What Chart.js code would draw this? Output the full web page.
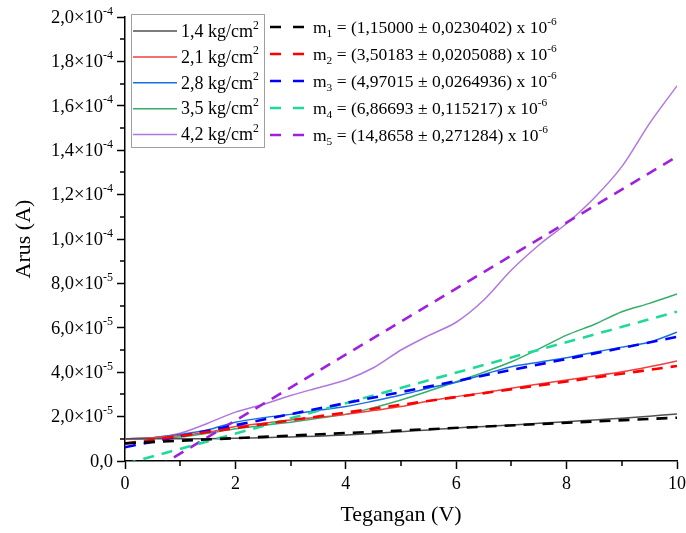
<!DOCTYPE html>
<html>
<head>
<meta charset="utf-8">
<script src="https://cdn.jsdelivr.net/npm/chart.js@4.4.1/dist/chart.umd.min.js"></script>
<style>
  html, body { margin: 0; padding: 0; background: #fff; }
  #wrap { width: 686px; height: 533px; }
</style>
</head>
<body>
<div id="wrap"><canvas id="chart"></canvas></div>
<script>
const voltage = [0, 0.5, 1, 1.5, 2, 2.5, 3, 3.5, 4, 4.5, 5, 5.5, 6, 6.5, 7, 7.5, 8, 8.5, 9, 9.5, 10];
const pressureLabels = ['1,4', '2,1', '2,8', '3,5', '4,2'];
const current14 = [1.00e-5, 1.00e-5, 1.00e-5, 1.00e-5, 1.02e-5, 1.05e-5, 1.08e-5, 1.12e-5, 1.17e-5, 1.24e-5, 1.32e-5, 1.40e-5, 1.49e-5, 1.55e-5, 1.62e-5, 1.70e-5, 1.77e-5, 1.85e-5, 1.93e-5, 2.02e-5, 2.12e-5];
const current21 = [1.00e-5, 1.05e-5, 1.15e-5, 1.30e-5, 1.55e-5, 1.70e-5, 1.85e-5, 1.97e-5, 2.10e-5, 2.27e-5, 2.45e-5, 2.70e-5, 2.90e-5, 3.08e-5, 3.28e-5, 3.47e-5, 3.65e-5, 3.83e-5, 4.02e-5, 4.25e-5, 4.50e-5];
const current28 = [1.00e-5, 1.05e-5, 1.20e-5, 1.40e-5, 1.75e-5, 1.95e-5, 2.10e-5, 2.28e-5, 2.45e-5, 2.70e-5, 2.97e-5, 3.28e-5, 3.55e-5, 3.90e-5, 4.25e-5, 4.45e-5, 4.65e-5, 4.90e-5, 5.13e-5, 5.35e-5, 5.80e-5];
const current35 = [1.00e-5, 1.02e-5, 1.08e-5, 1.25e-5, 1.45e-5, 1.60e-5, 1.75e-5, 1.92e-5, 2.10e-5, 2.40e-5, 2.75e-5, 3.15e-5, 3.57e-5, 4.00e-5, 4.47e-5, 5.05e-5, 5.67e-5, 6.15e-5, 6.72e-5, 7.10e-5, 7.52e-5];
const current42 = [1.00e-5, 1.03e-5, 1.25e-5, 1.70e-5, 2.20e-5, 2.55e-5, 2.95e-5, 3.30e-5, 3.65e-5, 4.20e-5, 5.00e-5, 5.65e-5, 6.25e-5, 7.25e-5, 8.60e-5, 9.73e-5, 10.70e-5, 11.85e-5, 13.26e-5, 15.20e-5, 16.90e-5];

// linear fits
const fitSlopes = [1.15000e-6, 3.50183e-6, 4.97015e-6, 6.86693e-6, 14.8658e-6];
const fitIntercepts = [0.80e-5, 0.78e-5, 0.62e-5, -0.14e-5, -1.15e-5];
const fitSlopeText = ['1,15000', '3,50183', '4,97015', '6,86693', '14,8658'];
const fitErrorText = ['0,0230402', '0,0205088', '0,0264936', '0,115217', '0,271284'];

const solidColors = ['#515151', '#f14040', '#1a6fdf', '#37ad6b', '#b177de'];
const dashColors = ['#000000', '#ff0000', '#0000ff', '#1fd99a', '#a020e0'];

const SERIF = '"Liberation Serif", "Times New Roman", serif';
const measured = [current14, current21, current28, current35, current42];

const datasets = [];
measured.forEach((vals, i) => {
    datasets.push({
        label: pressureLabels[i] + ' kg/cm²',
        data: voltage.map((v, k) => ({ x: v, y: vals[k] })),
        borderColor: solidColors[i],
        borderWidth: 1.5,
        pointRadius: 0,
        tension: 0.3,
        order: 2,
    });
});
fitSlopes.forEach((m, i) => {
    const c = fitIntercepts[i];
    datasets.push({
        label: 'm' + (i + 1),
        data: [{ x: 0, y: c }, { x: 10, y: c + m * 10 }],
        borderColor: dashColors[i],
        borderWidth: 2.6,
        borderDash: [11, 8],
        pointRadius: 0,
        clip: 0,
        order: 1,
    });
});

// "2,0" + "×10" + exponent, split so the exponent can be raised
function yLabelParts(v) {
    if (Math.abs(v) < 1e-12) return [{ t: '0,0' }];
    const e = Math.floor(Math.log10(v) + 1e-9);
    const mant = (v / Math.pow(10, e)).toFixed(1).replace('.', ',');
    return [{ t: mant + '×10' }, { t: String(e), sup: true }];
}

function richWidth(ctx, parts, size) {
    let w = 0;
    for (const p of parts) {
        const fs = (p.sub || p.sup) ? size * 0.65 : size;
        ctx.font = fs + 'px ' + SERIF;
        w += ctx.measureText(p.t).width;
    }
    return w;
}

// draws text pieces with sub/superscripts
function drawRich(ctx, parts, x, y, size) {
    ctx.textBaseline = 'middle';
    ctx.textAlign = 'left';
    ctx.fillStyle = '#000';
    for (const p of parts) {
        let fs = size, dy = 0;
        if (p.sub) { fs = size * 0.65; dy = size * 0.32; }
        if (p.sup) { fs = size * 0.65; dy = -size * 0.36; }
        ctx.font = fs + 'px ' + SERIF;
        ctx.fillText(p.t, x, y + dy);
        x += ctx.measureText(p.t).width;
    }
}

const decorPlugin = {
    id: 'decor',
    afterDraw(chart) {
        const ctx = chart.ctx;
        ctx.save();
        // y tick labels with raised exponents
        const ys = chart.scales.y;
        ys.ticks.forEach(tk => {
            const parts = yLabelParts(tk.value);
            const w = richWidth(ctx, parts, 18.5);
            drawRich(ctx, parts, chart.chartArea.left - 12 - w, ys.getPixelForValue(tk.value) + 1, 18.5);
        });

        // legend for measured curves
        ctx.fillStyle = '#fff';
        ctx.fillRect(131.5, 14.5, 133, 133);
        ctx.strokeStyle = '#a0a0a0';
        ctx.lineWidth = 1;
        ctx.strokeRect(131.5, 14.5, 133, 133);
        pressureLabels.forEach((lab, i) => {
            const y = 31 + i * 25.9;
            ctx.strokeStyle = solidColors[i];
            ctx.lineWidth = 1.5;
            ctx.setLineDash([]);
            ctx.beginPath();
            ctx.moveTo(133, y);
            ctx.lineTo(177, y);
            ctx.stroke();
            drawRich(ctx, [{ t: lab + ' kg/cm' }, { t: '2', sup: true }], 181, y + 1, 18);
        });
        // legend for fits
        fitSlopeText.forEach((s, i) => {
            const y = 27 + i * 27;
            ctx.strokeStyle = dashColors[i];
            ctx.lineWidth = 2.6;
            ctx.setLineDash([11, 12]);
            ctx.beginPath();
            ctx.moveTo(270, y);
            ctx.lineTo(305, y);
            ctx.stroke();
            drawRich(ctx, [
                { t: 'm' }, { t: String(i + 1), sub: true },
                { t: ' = (' + s + ' ± ' + fitErrorText[i] + ') x 10' },
                { t: '-6', sup: true }
            ], 313, y + 1, 17.5);
        });
        ctx.restore();
    },
    afterDatasetsDraw(chart) {
        // minor ticks
        const ctx = chart.ctx;
        const xs = chart.scales.x, ys = chart.scales.y;
        const area = chart.chartArea;
        ctx.save();
        ctx.strokeStyle = '#000';
        ctx.lineWidth = 1.5;
        ctx.beginPath();
        for (let v = 1; v < 10; v += 2) {
            const px = Math.round(xs.getPixelForValue(v));
            ctx.moveTo(px, area.bottom);
            ctx.lineTo(px, area.bottom + 5);
        }
        for (let k = 1; k < 20; k += 2) {
            const py = Math.round(ys.getPixelForValue(k * 1e-5));
            ctx.moveTo(area.left, py);
            ctx.lineTo(area.left - 5, py);
        }
        ctx.stroke();
        ctx.restore();
    }
};

new Chart(document.getElementById('chart').getContext('2d'), {
    type: 'line',
    data: { datasets: datasets },
    options: {
        responsive: true,
        maintainAspectRatio: false,
        animation: false,
        layout: { padding: { top: 17, right: 0, left: 0, bottom: 0 } },
        plugins: {
            legend: { display: false },
            tooltip: { enabled: false },
        },
        scales: {
            x: {
                type: 'linear',
                min: 0,
                max: 10,
                afterFit: s => { s.height = 72; s.paddingRight = 9; },
                ticks: {
                    stepSize: 2,
                    color: '#000',
                    padding: 4,
                    font: { family: SERIF, size: 18 },
                    maxRotation: 0,
                },
                grid: { drawOnChartArea: false, tickLength: 8, tickColor: '#000', tickWidth: 1.5 },
                border: { color: '#000', width: 1.5 },
                title: {
                    display: true,
                    text: 'Tegangan (V)',
                    color: '#000',
                    font: { family: SERIF, size: 22 },
                    padding: { top: 0, bottom: 5 },
                },
            },
            y: {
                type: 'linear',
                min: 0,
                max: 2e-4,
                afterFit: s => { s.width = 125; },
                ticks: {
                    stepSize: 2e-5,
                    display: false,
                },
                grid: { drawOnChartArea: false, tickLength: 8, tickColor: '#000', tickWidth: 1.5 },
                border: { color: '#000', width: 1.5 },
                title: {
                    display: true,
                    text: 'Arus (A)',
                    color: '#000',
                    font: { family: SERIF, size: 22 },
                    padding: { top: 11, bottom: 0 },
                },
            },
        },
    },
    plugins: [decorPlugin],
});
</script>
</body>
</html>
